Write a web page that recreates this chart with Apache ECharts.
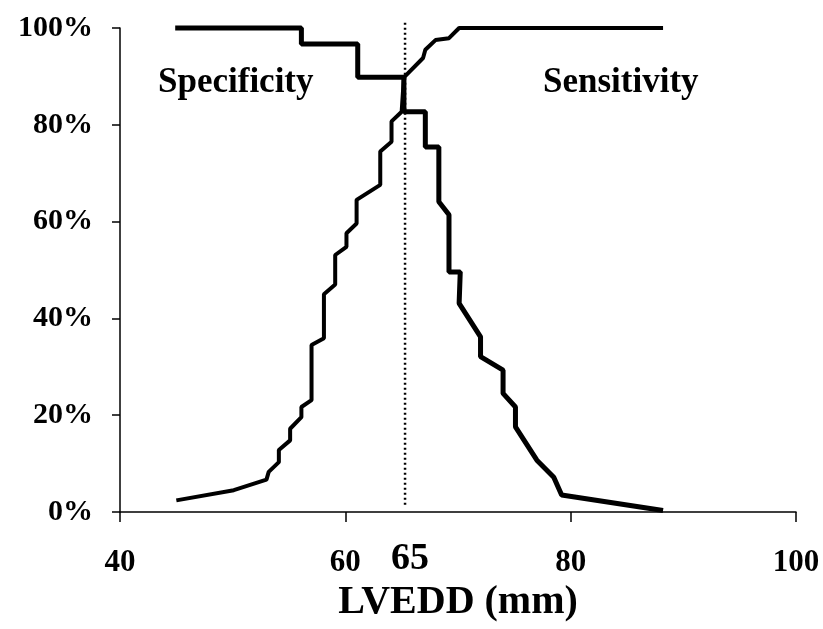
<!DOCTYPE html>
<html>
<head>
<meta charset="utf-8">
<script src="https://cdn.jsdelivr.net/npm/echarts@6/dist/echarts.min.js"></script>
<style>
  html, body { margin: 0; padding: 0; background: #fff; }
  #chart { width: 823px; height: 629px; }
</style>
</head>
<body>
<div id="chart"></div>
<script>
// LVEDD (mm) vs percentage
var xTicks = [40, 60, 80, 100];
var yTicks = [0, 20, 40, 60, 80, 100];
var cutoff = 65.3;
var cutoffLabel = '65';

// curve starting at 100% and falling to 0%
var fallX = [44.9, 56.1, 56.1, 61.1, 61.1, 65.2, 65.2, 67.1, 67.1, 68.3, 68.3, 69.2, 69.2, 70.2, 70.1, 72.0, 72.0, 74.0, 74.0, 75.1, 75.1, 77.0, 78.5, 79.2, 88.2];
var fallY = [100, 100, 96.7, 96.7, 89.8, 89.8, 82.7, 82.7, 75.4, 75.4, 64.1, 61.4, 49.6, 49.6, 43.1, 36.2, 32.1, 29.3, 24.5, 21.7, 17.6, 10.7, 7.2, 3.5, 0.3];

// curve starting near 0% and rising to 100%
var riseX = [45.0, 50.1, 53.0, 53.2, 54.1, 54.1, 55.1, 55.1, 56.1, 56.1, 57.0, 57.0, 58.1, 58.1, 59.1, 59.1, 60.1, 60.1, 61.0, 61.0, 63.1, 63.1, 64.1, 64.1, 65.0, 65.2, 66.9, 67.1, 68.0, 69.2, 70.1, 88.2];
var riseY = [2.4, 4.5, 6.7, 8.3, 10.3, 12.8, 14.8, 17.2, 19.6, 21.7, 23.1, 34.5, 35.9, 45.0, 47.0, 53.1, 54.8, 57.6, 59.6, 64.5, 67.6, 74.5, 76.5, 80.7, 82.7, 89.8, 93.8, 95.5, 97.5, 97.9, 100, 100];

var curveLabels = ['Specificity', 'Sensitivity'];

function pairs(xs, ys) {
    var out = [];
    for (var i = 0; i < xs.length; i++) out.push([xs[i], ys[i]]);
    return out;
}

var myChart = echarts.init(document.getElementById('chart'));
var font = '"Liberation Serif", "Times New Roman", serif';

var option = {
    backgroundColor: '#fff',
    animation: false,
    textStyle: { fontFamily: font, color: '#000' },
    grid: { left: 120, right: 27, top: 28, bottom: 117 },
    xAxis: {
        type: 'value',
        min: xTicks[0],
        max: xTicks[xTicks.length - 1],
        interval: 20,
        name: 'LVEDD (mm)',
        nameLocation: 'middle',
        nameGap: 64,
        nameTextStyle: { fontFamily: font, fontSize: 40, fontWeight: 'bold', color: '#000' },
        axisLine: { onZero: false, lineStyle: { color: '#000', width: 1.5 } },
        axisTick: { show: true, length: 10, lineStyle: { color: '#000', width: 1.5 } },
        axisLabel: { margin: 35, fontFamily: font, fontSize: 31, fontWeight: 'bold', color: '#000' },
        splitLine: { show: false }
    },
    yAxis: {
        type: 'value',
        min: yTicks[0],
        max: yTicks[yTicks.length - 1],
        interval: 20,
        axisLine: { show: true, onZero: false, lineStyle: { color: '#000', width: 1.5 } },
        axisTick: { show: true, length: 8, lineStyle: { color: '#000', width: 1.5 } },
        axisLabel: { margin: 27, fontFamily: font, fontSize: 30, fontWeight: 'bold', color: '#000', formatter: '{value}%' },
        splitLine: { show: false }
    },
    series: [
        {
            type: 'line',
            data: pairs(riseX, riseY),
            symbol: 'none',
            clip: false,
            lineStyle: { color: '#000', width: 4 }
        },
        {
            type: 'line',
            data: pairs(fallX, fallY),
            symbol: 'none',
            clip: false,
            lineStyle: { color: '#000', width: 5 }
        },
        {
            type: 'line',
            data: [[cutoff, 1.5], [cutoff, 101.5]],
            symbol: 'none',
            clip: false,
            z: 1,
            lineStyle: { color: '#000', width: 2.5, type: [2, 3] }
        }
    ]
};
myChart.setOption(option);

var cutPx = myChart.convertToPixel({ gridIndex: 0 }, [cutoff, 0]);
myChart.setOption({
    graphic: [
        {
            type: 'text', left: 158, top: 65,
            style: { text: curveLabels[0], font: 'bold 35px ' + font, fill: '#000' }
        },
        {
            type: 'text', left: 543, top: 65,
            style: { text: curveLabels[1], font: 'bold 35px ' + font, fill: '#000' }
        },
        {
            type: 'text', x: cutPx[0] + 5, y: cutPx[1] + 47,
            style: { text: cutoffLabel, font: 'bold 38px ' + font, fill: '#000', align: 'center', verticalAlign: 'middle' }
        }
    ]
});
</script>
</body>
</html>
